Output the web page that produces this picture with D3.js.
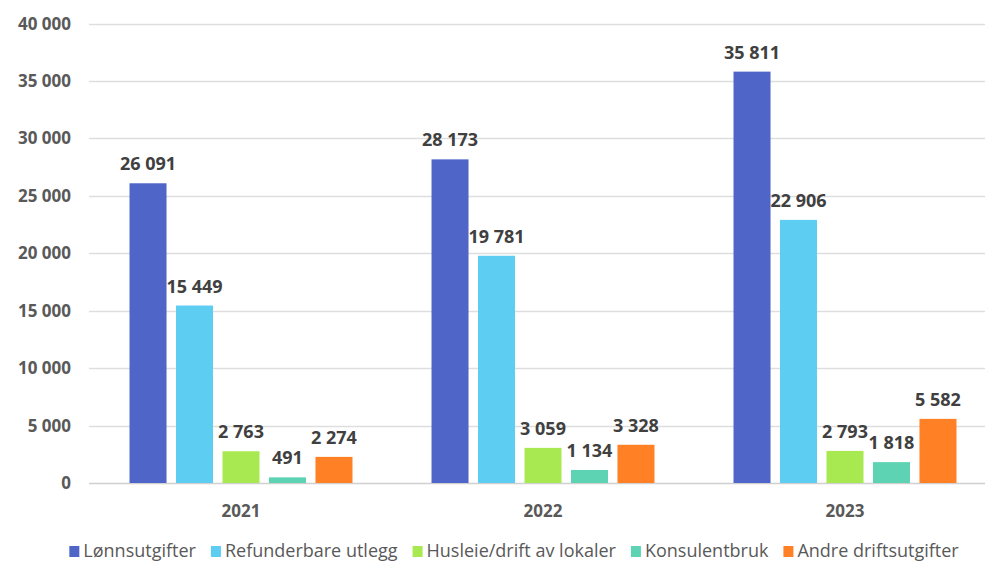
<!DOCTYPE html>
<html><head><meta charset="utf-8">
<script src="https://cdn.jsdelivr.net/npm/d3@7"></script>
<style>body{margin:0;background:#fff}</style>
</head><body>
<svg id="c" width="990" height="561"></svg>
<script>
const years = ["2021","2022","2023"];
const seriesNames = ["Lønnsutgifter","Refunderbare utlegg","Husleie/drift av lokaler","Konsulentbruk","Andre driftsutgifter"];
const lonn = [26091, 28173, 35811];
const refund = [15449, 19781, 22906];
const husleie = [2763, 3059, 2793];
const konsulent = [491, 1134, 1818];
const andre = [2274, 3328, 5582];
const yTicks = [0,5000,10000,15000,20000,25000,30000,35000,40000];
const colors = ["#4F66C8","#5DCDF2","#A8E850","#5ED3B3","#FF8025"];
const series = [lonn, refund, husleie, konsulent, andre];

const svg = d3.select("#c");
const fmt = v => d3.format(",")(v).replace(/,/g, " ");
const font = "'Open Sans',sans-serif";

const x0 = d3.scaleBand().domain(years).range([90, 996]).paddingInner(0).paddingOuter(0);
const x1 = d3.scaleBand().domain(d3.range(5)).range([0, x0.bandwidth()]).paddingInner(0.204).paddingOuter(0.85);
const y = d3.scaleLinear().domain([0, 40000]).range([483, 23.5]);

// gridlines
svg.append("g").selectAll("line").data(yTicks).join("line")
  .attr("x1", 89).attr("x2", 985)
  .attr("y1", d => Math.round(y(d))+0.5).attr("y2", d => Math.round(y(d))+0.5)
  .attr("stroke", d => d===0 ? "#D0D0D0" : "#DEDEDE").attr("stroke-width", 1.3);

// y tick labels
svg.append("g").selectAll("text").data(yTicks).join("text")
  .attr("x", 71).attr("y", d => y(d)).attr("dy", "0.36em")
  .attr("text-anchor", "end").attr("font-family", font).attr("font-weight", "bold")
  .attr("font-size", 17).attr("fill", "#595959").text(d => fmt(d));

// x labels
svg.append("g").selectAll("text").data(years).join("text")
  .attr("x", d => x0(d) + x0.bandwidth()/2).attr("y", 517)
  .attr("text-anchor", "middle").attr("font-family", font).attr("font-weight", "bold")
  .attr("font-size", 17).attr("fill", "#595959").text(d => d);

// bars
const groups = svg.append("g").selectAll("g").data(years).join("g")
  .attr("transform", d => `translate(${x0(d)},0)`);
groups.each(function(yr, yi){
  const g = d3.select(this);
  const data = series.map((s, si) => ({si, v: s[yi]}));
  g.selectAll("rect").data(data).join("rect")
    .attr("x", d => x1(d.si)).attr("width", x1.bandwidth())
    .attr("y", d => y(d.v)).attr("height", d => y(0) - y(d.v))
    .attr("fill", d => colors[d.si]);
  g.selectAll("text").data(data).join("text")
    .attr("x", d => x1(d.si) + x1.bandwidth()/2).attr("y", d => y(d.v) - 13)
    .attr("text-anchor", "middle").attr("font-family", font).attr("font-weight", "bold")
    .attr("font-size", 18).attr("fill", "#404040").text(d => fmt(d.v));
});

// legend
const leg = svg.append("g");
let cx = 0;
seriesNames.forEach((n, i) => {
  const it = leg.append("g").attr("transform", `translate(${cx},0)`);
  it.append("rect").attr("x", 0).attr("y", -5).attr("width", 10).attr("height", 11).attr("fill", colors[i]);
  const t = it.append("text").attr("x", 14).attr("y", 0).attr("dy", "0.36em")
    .attr("font-family", font).attr("font-size", 18).attr("fill", "#595959").text(n);
  cx += 14 + t.node().getComputedTextLength() + 15;
});
const lw = cx - 15;
leg.attr("transform", `translate(${514 - lw/2},551)`);
</script>
</body></html>
